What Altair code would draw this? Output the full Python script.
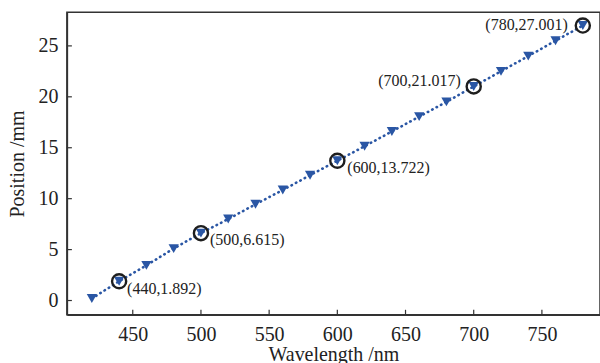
import altair as alt
import pandas as pd

wavelength = [420, 440, 460, 480, 500, 520, 540, 560, 580, 600, 620, 640, 660, 680, 700, 720, 740, 760, 780]
position = [0.2, 1.892, 3.45, 5.1, 6.615, 8.0, 9.45, 10.85, 12.3, 13.722, 15.15, 16.6, 18.05, 19.5, 21.017, 22.5, 24.0, 25.5, 27.001]

mark_x = [440, 500, 600, 700, 780]
mark_y = [1.892, 6.615, 13.722, 21.017, 27.001]
mark_label = ["(440,1.892)", "(500,6.615)", "(600,13.722)", "(700,21.017)", "(780,27.001)"]

x_ticks = [450, 500, 550, 600, 650, 700, 750]
y_ticks = [0, 5, 10, 15, 20, 25]

FONT = "Liberation Serif"
W, H = 534, 303
BLUE = "#2a56a4"

df = pd.DataFrame({"w": wavelength, "p": position})
dm = pd.DataFrame({"w": mark_x, "p": mark_y, "label": mark_label})

xs = alt.Scale(domain=[401.7, 792.6], nice=False, zero=False)
ys = alt.Scale(domain=[-1.4, 28.3], nice=False, zero=False)

xenc = alt.X("w:Q", scale=xs,
             axis=alt.Axis(title="Wavelength /nm", values=x_ticks, tickSize=0, labelPadding=10,
                           titlePadding=0, format="d"))
yenc = alt.Y("p:Q", scale=ys,
             axis=alt.Axis(title="Position /mm", values=y_ticks, tickSize=0, labelPadding=9,
                           titlePadding=10, format="d"))

base = alt.Chart(df)
line = base.mark_line(color=BLUE, strokeWidth=2.6, strokeDash=[0.5, 4.5], strokeCap="round").encode(x=xenc, y=yenc)
tri = base.mark_point(shape="triangle-down", filled=True, color=BLUE, size=105, opacity=1).encode(x=xenc, y=yenc)

circ = alt.Chart(dm).mark_point(shape="circle", filled=False, color="#1e1e1e", strokeWidth=2.4, size=200, opacity=1).encode(
    x=alt.X("w:Q", scale=xs), y=alt.Y("p:Q", scale=ys))

def label_layer(idx, align, dx, dy):
    return alt.Chart(dm.iloc[idx:idx + 1]).mark_text(
        font=FONT, fontSize=16, color="#222222", align=align, baseline="middle", dx=dx, dy=dy
    ).encode(x=alt.X("w:Q", scale=xs), y=alt.Y("p:Q", scale=ys), text="label:N")

labels = [
    label_layer(0, "left", 8, 8),
    label_layer(1, "left", 9, 7),
    label_layer(2, "left", 10, 7),
    label_layer(3, "right", -13, -5),
    label_layer(4, "right", -15, -1),
]

xt = alt.Chart(pd.DataFrame({"w": x_ticks})).mark_rule(color="#333333", strokeWidth=1.2).encode(
    x=alt.X("w:Q", scale=xs), y=alt.value(H), y2=alt.value(H - 5))
yt = alt.Chart(pd.DataFrame({"p": y_ticks})).mark_rule(color="#333333", strokeWidth=1.2).encode(
    y=alt.Y("p:Q", scale=ys), x=alt.value(0), x2=alt.value(5))

chart = alt.layer(line, tri, circ, *labels, xt, yt).properties(
    width=W, height=H,
    autosize=alt.AutoSizeParams(type="none"),
    padding={"left": 67, "top": 12, "right": 0, "bottom": 48},
    background="white",
).configure_view(stroke="#333333", strokeWidth=1.5).configure_axis(
    grid=False, domainColor="#333333", domainWidth=1.5,
    labelFont=FONT, labelFontSize=20, labelColor="#222222",
    titleFont=FONT, titleFontSize=20, titleColor="#222222", titleFontWeight="normal",
)

chart.save("out.html", embed_options={"renderer": "svg", "actions": False})
